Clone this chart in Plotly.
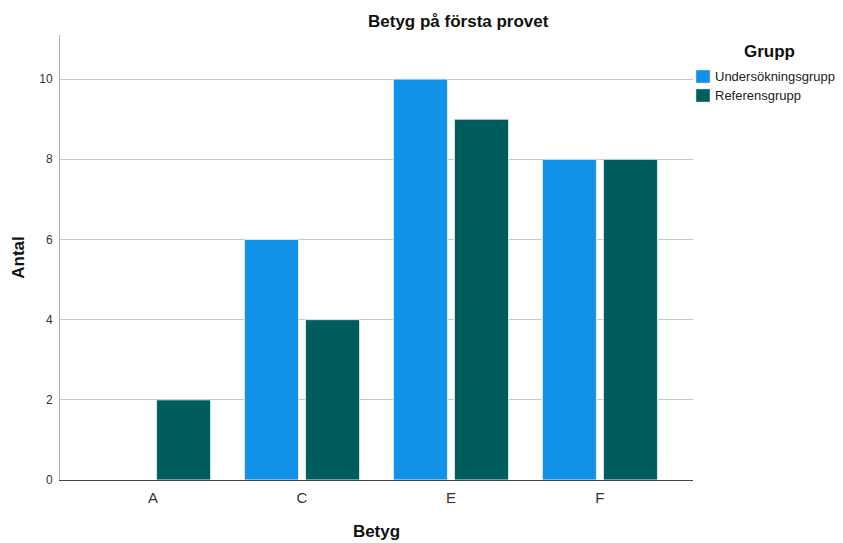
import plotly.graph_objects as go

categories = ["A", "C", "E", "F"]
undersokning = [0, 6, 10, 8]
referens = [2, 4, 9, 8]
series_names = ["Undersökningsgrupp", "Referensgrupp"]
series_colors = ["#1192e8", "#005d5d"]
y_ticks = [0, 2, 4, 6, 8, 10]

FONT = "Liberation Sans, Arial, sans-serif"

fig = go.Figure()
for name, vals, col, edge in zip(series_names, [undersokning, referens], series_colors,
                                 ["#e0e8ee", "#d8e6e6"]):
    widths = [1 if v else 0 for v in vals]
    fig.add_trace(go.Bar(x=categories, y=vals, name=name, showlegend=False,
                         marker=dict(color=col, line=dict(color=edge, width=widths))))

shapes = []
annotations = [
    dict(text="<b>Betyg på första provet</b>", xref="paper", yref="paper",
         x=0.63, y=1.0, yshift=14, xanchor="center", yanchor="middle",
         showarrow=False, font=dict(size=17, color="#111")),
    dict(text="<b>Grupp</b>", xref="paper", yref="paper",
         x=1.0, xshift=76, y=1.0, yshift=-16, xanchor="center", yanchor="middle",
         showarrow=False, font=dict(size=17, color="#111")),
]
# manual legend (swatch + label) placed right of the plot area
for i, (name, col) in enumerate(zip(series_names, series_colors)):
    top = -35 - i * 19
    shapes.append(dict(type="rect", xref="paper", yref="paper",
                       xsizemode="pixel", ysizemode="pixel", xanchor=1, yanchor=1,
                       x0=3, x1=17, y0=top - 13, y1=top,
                       fillcolor=col, line=dict(color="#cfd8dc", width=0.5)))
    annotations.append(dict(text=name, xref="paper", yref="paper",
                            x=1.0, xshift=20, y=1.0, yshift=top - 6.5,
                            xanchor="left", yanchor="middle", showarrow=False,
                            font=dict(size=13, color="#222")))

fig.update_layout(
    width=843, height=543,
    margin=dict(l=60, r=150, t=35, b=63, autoexpand=False),
    paper_bgcolor="white", plot_bgcolor="white",
    font=dict(family=FONT, color="#222"),
    barmode="group", bargap=0.18, bargroupgap=0.115,
    showlegend=False,
    xaxis=dict(range=[-0.625, 3.625], showgrid=False, showline=True,
               linecolor="#444", linewidth=1, ticks="", automargin=False,
               tickfont=dict(size=15, color="#333"), ticklabelstandoff=4,
               title=dict(text="<b>Betyg</b>", font=dict(size=17, color="#111"), standoff=20)),
    yaxis=dict(range=[0, 11.1], tickvals=y_ticks, showgrid=True,
               gridcolor="#c8c8c8", gridwidth=1, showline=True,
               linecolor="#aaaaaa", linewidth=1, ticks="", zeroline=False,
               automargin=False,
               tickfont=dict(size=12, color="#333"), ticklabelstandoff=4,
               title=dict(text="<b>Antal</b>", font=dict(size=17, color="#111"), standoff=10)),
    shapes=shapes,
    annotations=annotations,
)

fig.write_html("out.html", config={"displayModeBar": False},
               post_script="document.body.style.margin='0';document.body.style.padding='0';")
